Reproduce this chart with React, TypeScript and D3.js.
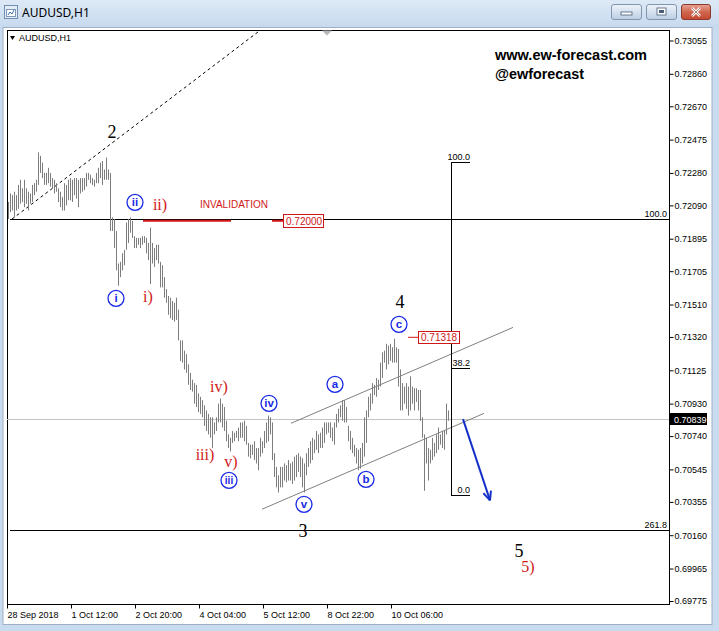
import * as d3 from "d3";
import { useEffect, useRef } from "react";

// AUDUSD H1 bars, prices in pips (price = pips / 10000)
const barHighPips = [
  7211, 7216, 7215, 7217, 7215, 7221, 7224, 7219, 7224, 7219, 7217, 7216, 7221, 7222, 7224, 7240,
  7238, 7234, 7228, 7228, 7231, 7228, 7225, 7224, 7222, 7219, 7217, 7214, 7222, 7221, 7224, 7225,
  7224, 7225, 7225, 7224, 7225, 7225, 7225, 7228, 7228, 7227, 7225, 7224, 7228, 7231, 7234, 7235,
  7230, 7237, 7230, 7228, 7202, 7201, 7194, 7175, 7176, 7181, 7183, 7199, 7201, 7202, 7200, 7191,
  7190, 7190, 7190, 7191, 7191, 7190, 7187, 7196, 7187, 7184, 7186, 7186, 7176, 7174, 7167, 7160,
  7156, 7155, 7153, 7152, 7155, 7148, 7130, 7130, 7124, 7122, 7116, 7111, 7107, 7105, 7104, 7099,
  7097, 7095, 7092, 7089, 7087, 7085, 7085, 7082, 7085, 7093, 7096, 7093, 7091, 7083, 7075, 7073,
  7077, 7076, 7077, 7079, 7082, 7082, 7083, 7080, 7070, 7069, 7069, 7071, 7067, 7067, 7073, 7071,
  7077, 7082, 7086, 7085, 7082, 7064, 7056, 7051, 7056, 7056, 7058, 7057, 7060, 7058, 7059, 7062,
  7063, 7064, 7062, 7061, 7058, 7064, 7067, 7071, 7073, 7072, 7077, 7075, 7076, 7079, 7082, 7082,
  7082, 7082, 7079, 7082, 7087, 7090, 7092, 7095, 7095, 7091, 7080, 7077, 7073, 7069, 7067, 7066,
  7067, 7070, 7085, 7089, 7097, 7099, 7105, 7104, 7108, 7107, 7117, 7123, 7124, 7128, 7127, 7128,
  7126, 7131, 7126, 7125, 7113, 7105, 7103, 7105, 7103, 7109, 7103, 7102, 7102, 7101, 7101, 7085,
  7075, 7073, 7067, 7066, 7073, 7070, 7075, 7079, 7075, 7077, 7077, 7093, 7089,
];
const barLowPips = [
  7201, 7205, 7206, 7202, 7206, 7207, 7210, 7211, 7208, 7210, 7206, 7210, 7211, 7215, 7217, 7221,
  7228, 7225, 7221, 7221, 7222, 7220, 7219, 7216, 7217, 7211, 7208, 7206, 7206, 7209, 7212, 7212,
  7211, 7215, 7213, 7208, 7216, 7217, 7218, 7220, 7224, 7222, 7221, 7220, 7222, 7222, 7225, 7221,
  7224, 7224, 7224, 7194, 7194, 7184, 7171, 7162, 7167, 7171, 7174, 7183, 7187, 7193, 7190, 7184,
  7184, 7186, 7184, 7186, 7187, 7181, 7177, 7163, 7175, 7173, 7177, 7175, 7161, 7161, 7155, 7152,
  7145, 7143, 7142, 7141, 7142, 7130, 7118, 7117, 7113, 7111, 7104, 7101, 7100, 7093, 7091, 7088,
  7087, 7085, 7080, 7077, 7075, 7073, 7067, 7075, 7077, 7082, 7082, 7079, 7077, 7071, 7067, 7065,
  7070, 7071, 7073, 7071, 7073, 7073, 7071, 7069, 7062, 7061, 7063, 7060, 7058, 7054, 7062, 7064,
  7067, 7070, 7071, 7075, 7060, 7050, 7044, 7041, 7044, 7044, 7048, 7047, 7048, 7048, 7046, 7048,
  7050, 7053, 7050, 7044, 7041, 7051, 7056, 7058, 7060, 7064, 7066, 7064, 7067, 7067, 7070, 7075,
  7076, 7073, 7071, 7069, 7079, 7082, 7085, 7083, 7082, 7082, 7071, 7066, 7064, 7062, 7058, 7054,
  7055, 7058, 7062, 7070, 7085, 7089, 7093, 7098, 7097, 7101, 7103, 7108, 7117, 7113, 7116, 7118,
  7117, 7117, 7117, 7103, 7089, 7089, 7093, 7090, 7086, 7089, 7093, 7089, 7094, 7089, 7083, 7073,
  7042, 7058, 7048, 7058, 7060, 7062, 7064, 7066, 7069, 7067, 7066, 7075, 7083,
];
const lastPrice = 0.70839;

const xTickBars = [0, 32, 64, 96, 128, 160, 192];
const xTickLabels = ["28 Sep 2018", "1 Oct 12:00", "2 Oct 20:00", "4 Oct 04:00", "5 Oct 12:00", "8 Oct 22:00", "10 Oct 06:00"];
const yTickLabels = [
  "0.73055", "0.72860", "0.72670", "0.72475", "0.72280", "0.72090", "0.71895", "0.71705", "0.71510",
  "0.71320", "0.71125", "0.70930", "0.70740", "0.70545", "0.70355", "0.70160", "0.69965", "0.69775",
];

// wave counts: text, bar position, price, style
const waveText = ["2", "i", "ii", "ii)", "i)", "iv)", "iii)", "v)", "iii", "iv", "v", "3", "a", "b", "c", "4", "5", "5)"];
const waveBar = [52, 54, 63.5, 76, 70, 105.5, 98.5, 111.5, 110.5, 130.5, 148, 147.5, 163.5, 179, 195.5, 196, 255.5, 260];
const wavePrice = [0.72517, 0.71546, 0.72108, 0.7209, 0.71552, 0.71025, 0.70627, 0.70587, 0.70481, 0.70932, 0.70341, 0.70183, 0.71043, 0.70487, 0.71394, 0.71523, 0.70066, 0.69972];
const waveKind = ["big", "circle", "circle", "red", "red", "red", "red", "red", "circle", "circle", "circle", "big", "circle", "circle", "circle", "big", "big", "red"];

// trend lines: [bar1, price1, bar2, price2]
const channelUpper = [141.5, 0.70815, 252.5, 0.71376];
const channelLower = [127, 0.70312, 238, 0.70873];
const dashedTrend = [2, 0.7201, 126, 0.73114];
const arrowPath = [227.5, 0.70839, 241, 0.70364];

// fibonacci expansion (full width) and retracement (short)
const fibExpLevels = ["100.0", "261.8"];
const fibExpPrices = [0.7201, 0.70189];
const fibRetLevels = ["100.0", "38.2", "0.0"];
const fibRetPrices = [0.72342, 0.71138, 0.70393];
const fibRetBars = [221.5, 231];

const invalidationPrice = 0.72;
const wave4Price = 0.71318;

const W = 719;
const H = 631;
const frame = { left: 7, top: 30, right: 669, bottom: 604 };

export default function App() {
  const yAxisRef = useRef<SVGGElement | null>(null);
  const xAxisRef = useRef<SVGGElement | null>(null);

  const x = d3.scaleLinear().domain([0, 220]).range([8, 448]);
  const y = d3.scaleLinear().domain([0.69775, 0.73055]).range([601, 40.5]);

  useEffect(() => {
    if (!yAxisRef.current || !xAxisRef.current) return;
    const ya = d3.select(yAxisRef.current);
    ya.selectAll("*").remove();
    ya.call(
      d3
        .axisRight(y)
        .tickValues(yTickLabels.map((d) => +d))
        .tickSize(4)
        .tickSizeOuter(0)
        .tickPadding(1)
        .tickFormat((_, i) => yTickLabels[i])
    );
    ya.select(".domain").remove();
    ya.selectAll("text").style("font-family", "'Liberation Sans', Arial, sans-serif").style("font-size", "9px").style("fill", "#000");
    ya.selectAll(".tick line").attr("stroke", "#000");

    const xa = d3.select(xAxisRef.current);
    xa.selectAll("*").remove();
    xa.call(
      d3
        .axisBottom(x)
        .tickValues(xTickBars)
        .tickSize(4)
        .tickSizeOuter(0)
        .tickPadding(3)
        .tickFormat((_, i) => xTickLabels[i])
    );
    xa.select(".domain").remove();
    xa.selectAll(".tick").attr("transform", (d) => `translate(${Math.round(x(d as number)) - 0.5},0)`);
    xa.selectAll("text")
      .attr("text-anchor", "start")
      .attr("x", 0)
      .style("font-family", "'Liberation Sans', Arial, sans-serif")
      .style("font-size", "9px")
      .style("fill", "#000");
    xa.selectAll(".tick line").attr("stroke", "#000");
  }, []);

  const seg = (s: number[]) => ({ x1: x(s[0]), y1: y(s[1]), x2: x(s[2]), y2: y(s[3]) });
  const dash = seg(dashedTrend);
  const up = seg(channelUpper);
  const lo = seg(channelLower);
  const arr = seg(arrowPath);
  const arrAngle = (Math.atan2(arr.y2 - arr.y1, arr.x2 - arr.x1) * 180) / Math.PI;

  const serif = "'Liberation Serif', 'Times New Roman', serif";
  const sans = "'Liberation Sans', Arial, sans-serif";
  const red = "#d01818";
  const blue = "#1a2ae6";

  return (
    <div>
      <style>{"body{margin:0}"}</style>
      <svg width={W} height={H} style={{ display: "block" }}>
        <defs>
          <linearGradient id="title" x1="0" y1="0" x2="0" y2="1">
            <stop offset="0" stopColor="#dde9f6" />
            <stop offset="1" stopColor="#c6d9ee" />
          </linearGradient>
          <linearGradient id="btn" x1="0" y1="0" x2="0" y2="1">
            <stop offset="0" stopColor="#eef3fa" />
            <stop offset="0.5" stopColor="#d5e1ef" />
            <stop offset="1" stopColor="#bccde3" />
          </linearGradient>
          <linearGradient id="btnRed" x1="0" y1="0" x2="0" y2="1">
            <stop offset="0" stopColor="#e9a394" />
            <stop offset="0.5" stopColor="#d0654e" />
            <stop offset="1" stopColor="#c24a30" />
          </linearGradient>
          <clipPath id="plot">
            <rect x={frame.left} y={frame.top} width={frame.right - frame.left} height={frame.bottom - frame.top} />
          </clipPath>
        </defs>

        {/* window chrome */}
        <rect x={0} y={0} width={W} height={H} fill="#c8dbef" />
        <rect x={0} y={0} width={W} height={28} fill="url(#title)" />
        <rect x={3} y={27.5} width={709} height={597} fill="#fff" stroke="#9fb0c4" />
        <g>
          <rect x={4.5} y={5.5} width={13} height={13} fill="#e4ecf5" stroke="#6f8fb3" />
          <rect x={6.5} y={9.5} width={9} height={7} fill="#fff" stroke="#7c97b8" />
          <path d="M8,15 L10,12 L12,14 L14,10" fill="none" stroke="#3a6fb0" />
        </g>
        <text x={22} y={17} fontFamily="'Noto Sans', sans-serif" fontSize={12} fill="#000">AUDUSD,H1</text>
        <rect x={611.5} y={4.5} width={30} height={15} rx={2.5} fill="url(#btn)" stroke="#8396ae" />
        <rect x={621} y={12} width={11} height={3} fill="#fff" stroke="#4a5d78" strokeWidth={0.8} />
        <rect x={646.5} y={4.5} width={30} height={15} rx={2.5} fill="url(#btn)" stroke="#8396ae" />
        <rect x={657} y={8} width={9} height={7} fill="#fff" stroke="#4a5d78" strokeWidth={0.8} />
        <rect x={659} y={10} width={5} height={3} fill="#4a5d78" />
        <rect x={681.5} y={4.5} width={29} height={15} rx={2.5} fill="url(#btnRed)" stroke="#8a3a2c" />
        <path d="M692,8 L700,16 M700,8 L692,16" stroke="#fff" strokeWidth={2.6} />
        <path d="M692,8 L700,16 M700,8 L692,16" stroke="#6d2a20" strokeWidth={0.6} />

        {/* plot frame */}
        <rect
          x={frame.left + 0.5}
          y={frame.top + 0.5}
          width={frame.right - frame.left}
          height={frame.bottom - frame.top}
          fill="#fff"
          stroke="#000"
        />
        <path d="M10,36 L15,36 L12.5,40 Z" fill="#000" />
        <text x={19} y={41} fontFamily={sans} fontSize={9} fill="#000">AUDUSD,H1</text>
        <path d="M322,30.5 L332,30.5 L327,35.5 Z" fill="#b9b9b9" />

        {/* watermark */}
        <text x={495} y={60} fontFamily={sans} fontWeight="bold" fontSize={14.5} textLength={152} lengthAdjust="spacingAndGlyphs" fill="#000">
          www.ew-forecast.com
        </text>
        <text x={495} y={79} fontFamily={sans} fontWeight="bold" fontSize={14.5} textLength={89} lengthAdjust="spacingAndGlyphs" fill="#000">
          @ewforecast
        </text>

        <g clipPath="url(#plot)">
          {/* current price line */}
          <line x1={frame.left} x2={frame.right} y1={Math.round(y(lastPrice)) + 0.5} y2={Math.round(y(lastPrice)) + 0.5} stroke="#c3c3c3" />

          {/* fibonacci expansion */}
          {fibExpPrices.map((p, i) => (
            <g key={"fe" + i}>
              <line x1={x(1)} x2={frame.right} y1={Math.round(y(p)) + 0.5} y2={Math.round(y(p)) + 0.5} stroke="#000" />
              <text x={frame.right - 2} y={Math.round(y(p)) - 2} textAnchor="end" fontFamily={sans} fontSize={9} fill="#000">
                {fibExpLevels[i]}
              </text>
            </g>
          ))}

          {/* dashed trend line */}
          <line {...dash} stroke="#000" strokeDasharray="3,3" />

          {/* bars */}
          {barHighPips.map((h, i) => {
            const bx = Math.round(x(i)) + 0.5;
            return <line key={i} x1={bx} x2={bx} y1={y(h / 10000)} y2={y(barLowPips[i] / 10000)} stroke="#7d7d7d" />;
          })}

          {/* channel */}
          <line {...up} stroke="#808080" />
          <line {...lo} stroke="#808080" />

          {/* fibonacci retracement */}
          <line
            x1={Math.round(x(fibRetBars[0])) + 0.5}
            x2={Math.round(x(fibRetBars[0])) + 0.5}
            y1={Math.round(y(fibRetPrices[0])) + 0.5}
            y2={Math.round(y(fibRetPrices[2])) + 0.5}
            stroke="#000"
          />
          {fibRetPrices.map((p, i) => (
            <g key={"fr" + i}>
              <line x1={x(fibRetBars[0])} x2={x(fibRetBars[1])} y1={Math.round(y(p)) + 0.5} y2={Math.round(y(p)) + 0.5} stroke="#000" />
              <text x={x(fibRetBars[1])} y={Math.round(y(p)) - 2} textAnchor="end" fontFamily={sans} fontSize={9} fill="#000">
                {fibRetLevels[i]}
              </text>
            </g>
          ))}

          {/* invalidation */}
          <line x1={x(67.5)} x2={x(111.5)} y1={y(invalidationPrice)} y2={y(invalidationPrice)} stroke={red} strokeWidth={2} />
          <line x1={x(132)} x2={x(137.5)} y1={y(invalidationPrice)} y2={y(invalidationPrice)} stroke={red} strokeWidth={2} />
          <text x={x(96)} y={y(invalidationPrice) - 13} fontFamily={sans} fontSize={10} fill={red}>
            INVALIDATION
          </text>
          <rect x={x(137.5) + 0.5} y={Math.round(y(invalidationPrice)) - 6.5} width={40} height={13} fill="#fff" stroke={red} />
          <text x={x(137.5) + 3} y={Math.round(y(invalidationPrice)) + 4} fontFamily={sans} fontSize={10} fill={red}>
            0.72000
          </text>

          {/* wave 4 high */}
          <line x1={x(200)} x2={x(205)} y1={y(wave4Price)} y2={y(wave4Price)} stroke={red} />
          <rect x={x(205) + 0.5} y={Math.round(y(wave4Price)) - 5.5} width={41} height={12} fill="#fff" stroke={red} />
          <text x={x(205) + 3} y={Math.round(y(wave4Price)) + 4} fontFamily={sans} fontSize={10} fill={red}>
            {wave4Price.toFixed(5)}
          </text>

          {/* projection arrow */}
          <line x1={arr.x1} y1={arr.y1} x2={arr.x2} y2={arr.y2} stroke="#1530c8" strokeWidth={2} />
          <path
            d="M0,0 L-9,-4 M0,0 L-9,4"
            transform={`translate(${arr.x2},${arr.y2}) rotate(${arrAngle})`}
            fill="none"
            stroke="#1530c8"
            strokeWidth={2}
          />

          {/* wave labels */}
          {waveText.map((t, i) => {
            const cx = x(waveBar[i]);
            const cy = y(wavePrice[i]);
            const k = waveKind[i];
            if (k === "circle") {
              return (
                <g key={"w" + i}>
                  <circle cx={cx} cy={cy} r={8} fill="#fff" stroke={blue} strokeWidth={1.3} />
                  <text x={cx} y={cy + 4} textAnchor="middle" fontFamily={sans} fontWeight="bold" fontSize={t.length > 2 ? 10 : 11.5} fill={blue}>
                    {t}
                  </text>
                </g>
              );
            }
            if (k === "big") {
              return (
                <text key={"w" + i} x={cx} y={cy + 6} textAnchor="middle" fontFamily={serif} fontSize={18} fill="#000">
                  {t}
                </text>
              );
            }
            return (
              <text key={"w" + i} x={cx} y={cy + 5} textAnchor="middle" fontFamily={serif} fontSize={16} fill={red}>
                {t}
              </text>
            );
          })}
        </g>

        {/* axes */}
        <g ref={yAxisRef} transform={`translate(${frame.right + 0.5},0)`} />
        <g ref={xAxisRef} transform={`translate(0,${frame.bottom + 0.5})`} />

        {/* last price tag */}
        <rect x={frame.right + 1} y={Math.round(y(lastPrice)) - 6} width={37} height={12} fill="#000" />
        <text x={frame.right + 5} y={Math.round(y(lastPrice)) + 3.5} fontFamily={sans} fontSize={9} fill="#fff">
          {lastPrice.toFixed(5)}
        </text>
      </svg>
    </div>
  );
}
